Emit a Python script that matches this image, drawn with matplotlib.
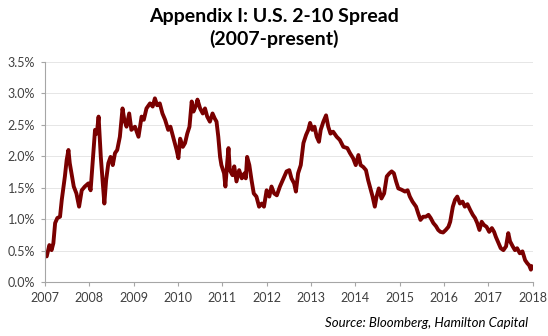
import matplotlib
matplotlib.use("Agg")
import matplotlib.pyplot as plt
from matplotlib.ticker import FuncFormatter, MultipleLocator

years = [
    2007.00, 2007.04, 2007.10, 2007.15, 2007.19, 2007.23, 2007.28, 2007.34, 2007.38, 2007.45,
    2007.49, 2007.53, 2007.56, 2007.60, 2007.65, 2007.71, 2007.77, 2007.83, 2007.90, 2007.98,
    2008.03, 2008.08, 2008.13, 2008.17, 2008.21, 2008.26, 2008.30, 2008.34, 2008.38, 2008.43,
    2008.48, 2008.53, 2008.58, 2008.63, 2008.69, 2008.75, 2008.79, 2008.84, 2008.90, 2008.95,
    2009.03, 2009.11, 2009.18, 2009.23, 2009.29, 2009.37, 2009.43, 2009.48, 2009.53, 2009.59,
    2009.65, 2009.71, 2009.78, 2009.83, 2009.89, 2009.97, 2010.01, 2010.05, 2010.11, 2010.16,
    2010.21, 2010.26, 2010.31, 2010.35, 2010.41, 2010.44, 2010.50, 2010.56, 2010.61, 2010.66,
    2010.72, 2010.78, 2010.83, 2010.87, 2010.91, 2010.95, 2010.98, 2011.04, 2011.07, 2011.11,
    2011.14, 2011.17, 2011.23, 2011.27, 2011.32, 2011.38, 2011.44, 2011.50, 2011.53, 2011.56,
    2011.61, 2011.66, 2011.71, 2011.77, 2011.83, 2011.89, 2011.94, 2012.00, 2012.06, 2012.11,
    2012.17, 2012.23, 2012.30, 2012.38, 2012.45, 2012.51, 2012.56, 2012.62, 2012.66, 2012.71,
    2012.77, 2012.83, 2012.89, 2012.94, 2012.98, 2013.03, 2013.08, 2013.13, 2013.18, 2013.22,
    2013.28, 2013.34, 2013.39, 2013.44, 2013.50, 2013.58, 2013.65, 2013.73, 2013.82, 2013.88,
    2013.95, 2014.01, 2014.07, 2014.12, 2014.18, 2014.24, 2014.29, 2014.35, 2014.39, 2014.44,
    2014.48, 2014.53, 2014.59, 2014.65, 2014.71, 2014.77, 2014.82, 2014.87, 2014.92, 2014.97,
    2015.04, 2015.12, 2015.18, 2015.23, 2015.29, 2015.37, 2015.42, 2015.47, 2015.53, 2015.59,
    2015.65, 2015.70, 2015.76, 2015.82, 2015.87, 2015.92, 2015.98, 2016.04, 2016.10, 2016.14,
    2016.20, 2016.25, 2016.30, 2016.36, 2016.42, 2016.47, 2016.53, 2016.59, 2016.65, 2016.70,
    2016.75, 2016.80, 2016.85, 2016.90, 2016.96, 2017.02, 2017.08, 2017.13, 2017.17, 2017.23,
    2017.28, 2017.34, 2017.40, 2017.45, 2017.49, 2017.55, 2017.60, 2017.65, 2017.71, 2017.77,
    2017.83, 2017.88, 2017.92, 2017.96, 2017.99,
]

spread_pct = [
    0.43, 0.41, 0.59, 0.51, 0.62, 0.94, 1.02, 1.04, 1.31, 1.68,
    1.94, 2.10, 1.89, 1.73, 1.52, 1.41, 1.20, 1.46, 1.52, 1.57,
    1.46, 1.94, 2.42, 2.36, 2.63, 1.99, 1.62, 1.25, 1.62, 1.89,
    1.99, 1.86, 2.05, 2.10, 2.31, 2.76, 2.58, 2.47, 2.68, 2.42,
    2.47, 2.31, 2.63, 2.58, 2.76, 2.84, 2.79, 2.92, 2.81, 2.84,
    2.68, 2.58, 2.42, 2.47, 2.31, 2.10, 1.97, 2.28, 2.15, 2.21,
    2.36, 2.47, 2.87, 2.71, 2.81, 2.90, 2.76, 2.68, 2.76, 2.63,
    2.55, 2.68, 2.60, 2.55, 2.31, 1.99, 1.86, 1.73, 1.52, 1.89,
    2.13, 1.78, 1.70, 1.84, 1.60, 1.78, 1.65, 1.73, 1.65, 1.99,
    1.86, 1.62, 1.41, 1.36, 1.20, 1.25, 1.20, 1.46, 1.36, 1.52,
    1.41, 1.38, 1.52, 1.65, 1.76, 1.78, 1.65, 1.57, 1.44, 1.73,
    1.86, 2.21, 2.34, 2.42, 2.53, 2.42, 2.47, 2.31, 2.23, 2.42,
    2.55, 2.65, 2.47, 2.36, 2.39, 2.31, 2.26, 2.15, 2.13, 2.05,
    1.97, 1.86, 2.02, 1.86, 1.83, 1.78, 1.62, 1.46, 1.36, 1.20,
    1.36, 1.49, 1.33, 1.41, 1.68, 1.73, 1.76, 1.73, 1.60, 1.49,
    1.47, 1.44, 1.46, 1.36, 1.28, 1.20, 1.09, 0.99, 1.04, 1.04,
    1.07, 1.02, 0.94, 0.89, 0.83, 0.80, 0.79, 0.83, 0.88, 0.96,
    1.20, 1.31, 1.36, 1.25, 1.28, 1.20, 1.24, 1.15, 1.07, 1.02,
    0.94, 0.83, 0.96, 0.91, 0.88, 0.80, 0.86, 0.80, 0.72, 0.62,
    0.54, 0.51, 0.57, 0.78, 0.65, 0.57, 0.51, 0.54, 0.46, 0.49,
    0.35, 0.30, 0.27, 0.20, 0.25,
]

year_ticks = list(range(2007, 2019))
title_text = "Appendix I: U.S. 2-10 Spread\n(2007-present)"
source_text = "Source: Bloomberg, Hamilton Capital"

plt.rcParams['font.family'] = ['Lato', 'DejaVu Sans']

fig = plt.figure(figsize=(5.48, 3.36), dpi=100)
ax = fig.add_axes([0.082, 0.160, 0.890, 0.656])

ax.plot(years, spread_pct, color='#7a0000', linewidth=2.8, solid_joinstyle='round')

ax.set_xlim(2007, 2018)
ax.set_ylim(0, 3.5)
ax.set_xticks(year_ticks)
ax.set_xticklabels([str(y) for y in year_ticks])
ax.yaxis.set_major_locator(MultipleLocator(0.5))
ax.yaxis.set_major_formatter(FuncFormatter(lambda v, p: f"{v:.1f}%"))

ax.grid(axis='y', color='#e6e6e6', linewidth=0.7)
ax.set_axisbelow(True)
for s in ['top', 'right']:
    ax.spines[s].set_visible(False)
for s in ['left', 'bottom']:
    ax.spines[s].set_color('#a6a6a6')
    ax.spines[s].set_linewidth(0.8)
ax.tick_params(axis='both', colors='#a6a6a6', labelcolor='#404040', labelsize=9,
               length=3, width=0.8, direction='out')
ax.tick_params(axis='y', pad=4)
ax.tick_params(axis='x', pad=4)

fig.text(0.5, 0.975, title_text, ha='center', va='top', fontsize=14,
         fontweight='bold', color='#000000', linespacing=1.3)
fig.text(0.964, 0.04, source_text, ha='right', va='center', fontsize=9.5,
         style='italic', color='#000000')

fig.savefig('out.png', dpi=100)
